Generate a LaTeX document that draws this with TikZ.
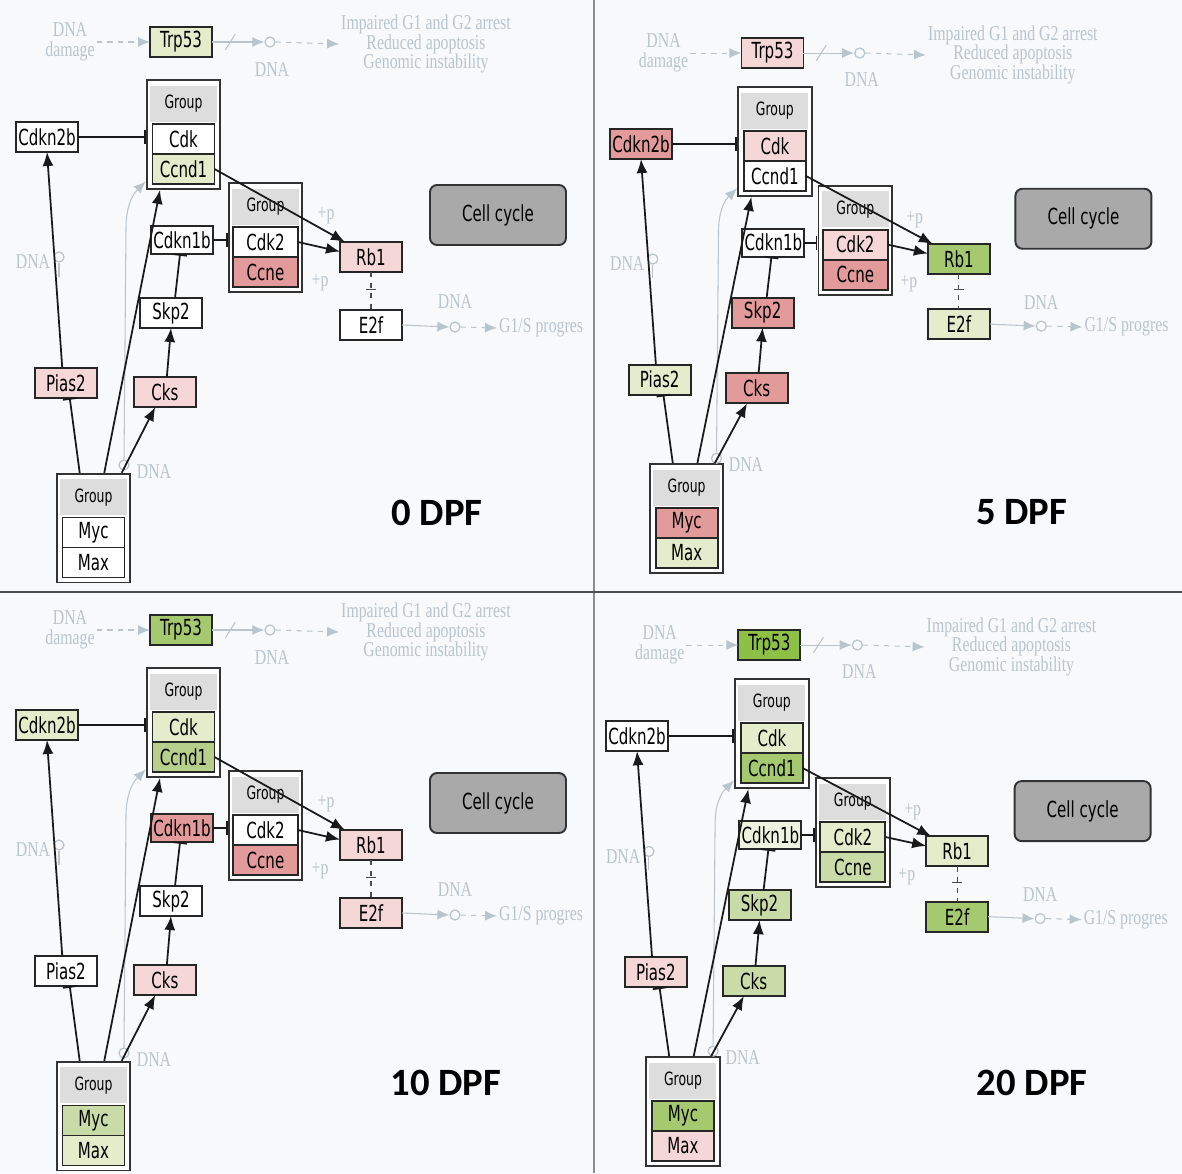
\documentclass[tikz,border=0pt]{standalone}
\usepackage{fontspec}
\setmainfont{DejaVu Sans}[FakeStretch=0.68]
\newfontfamily\keggserif{Liberation Serif}[FakeStretch=0.75]
\newfontfamily\dpffont{Carlito}
\usetikzlibrary{arrows.meta, positioning, calc, fit, backgrounds}
\definecolor{lg}{HTML}{E4ECCB}
\definecolor{pg}{HTML}{EEF3DF}
\definecolor{mg}{HTML}{C9DCA8}
\definecolor{mdg}{HTML}{B6CF8A}
\definecolor{dg}{HTML}{A5C96E}
\definecolor{vg}{HTML}{8DC045}
\definecolor{lp}{HTML}{F6D7D7}
\definecolor{rd}{HTML}{E39A9A}
\definecolor{pagebg}{HTML}{F8F9FB}
\definecolor{fgray}{HTML}{B9C5CD}
\definecolor{hdgray}{HTML}{DDDDDD}
\definecolor{cycgray}{HTML}{A9A9A9}

% fill colours of one panel
\newcommand\genecolors[9]{\def\cTrp{#1}\def\cCdknb{#2}\def\cCdk{#3}\def\cCcnd{#4}%
  \def\cCdkna{#5}\def\cCdkk{#6}\def\cCcne{#7}\def\cRb{#8}\def\cSkp{#9}}
\newcommand\genecolorsb[5]{\def\cEf{#1}\def\cPias{#2}\def\cCks{#3}\def\cMyc{#4}\def\cMax{#5}}

% one cell cycle map: prefix, transform, label position, label
\newcommand\keggpanel[4]{%
\begin{scope}[#2]
% p53 branch
\node[faint, align=center] (#1dmg) at (70,42) {DNA\\damage};
\node[gene, fill=\cTrp] (#1trp) at (181,42) {Trp53};
\node[dot] (#1oa) at (270,42) {};
\node[faint] (#1dnaa) at (272,70) {DNA};
\node[faint, align=center] (#1out) at (426,44) {Impaired G1 and G2 arrest\\Reduced apoptosis\\Genomic instability};
\draw[farr, dashed] (#1dmg.east) -- (#1trp.west);
\draw[farr] (#1trp.east) -- (#1oa.west);
\draw[fln] ($(#1trp.east)!.35!(#1oa.west)+(-5,8)$) -- ++(10,-16);
\draw[farr, dashed] (#1oa.east) -- (#1out.west);
% groups
\node[gene, fill=\cCdk] (#1cdk) at (183.5,139) {Cdk};
\node[gene, fill=\cCcnd, below=0pt of #1cdk] (#1ccnd) {Ccnd1};
\node[grphd, above=0.4mm of #1cdk] (#1gha) {Group};
\node[gene, fill=\cCdkk, minimum width=1.3cm] (#1cdkk) at (265.5,242) {Cdk2};
\node[gene, fill=\cCcne, minimum width=1.3cm, below=0pt of #1cdkk] (#1ccne) {Ccne};
\node[grphd, above=0.4mm of #1cdkk] (#1ghb) {Group};
\node[gene, fill=\cMyc] (#1myc) at (93.5,532.5) {Myc};
\node[gene, fill=\cMax, below=0pt of #1myc] (#1max) {Max};
\node[grphd, above=0.4mm of #1myc] (#1ghc) {Group};
\begin{scope}[on background layer]
\node[grp, fit=(#1gha)(#1cdk)(#1ccnd)] (#1g1) {};
\node[grp, fit=(#1ghb)(#1cdkk)(#1ccne)] (#1g2) {};
\node[grp, fit=(#1ghc)(#1myc)(#1max)] (#1g3) {};
\end{scope}
% single genes
\node[gene, fill=\cCdknb] (#1cdknb) at (47,137) {Cdkn2b};
\node[gene, fill=\cCdkna, minimum height=0.56cm] (#1cdkna) at (182,240) {Cdkn1b};
\node[gene, fill=\cRb] (#1rb) at (371,257) {Rb1};
\node[gene, fill=\cEf] (#1e2f) at (371,325) {E2f};
\node[gene, fill=\cSkp] (#1skp) at (171,313) {Skp2};
\node[gene, fill=\cPias] (#1pias) at (66,383) {Pias2};
\node[gene, fill=\cCks] (#1cks) at (165,392) {Cks};
\node[cyc] (#1cyc) at (498,215) {Cell cycle};
% faint background marks
\node[faint] (#1pa) at (326,216) {+p};
\node[faint] (#1pb) at (320,283) {+p};
\node[dot] (#1ob) at (455,327) {};
\node[faint] (#1dnab) at (455,302) {DNA};
\node[faint, anchor=west] (#1gs) at (497,328) {G1/S progres};
\draw[farr] (#1e2f.east) -- (#1ob.west);
\draw[farr, dashed] (#1ob.east) -- (#1gs.west);
\node[faint] (#1dnac) at (33,262) {DNA};
\node[dot] (#1oc) at (59,257) {};
\draw[fln] (#1oc.south) -- ++(0,14);
\node[dot] (#1od) at (124,465) {};
\node[faint] (#1dnad) at (154,472) {DNA};
\draw[farr] (#1od.north) -- (126,228) to[out=90, in=225] (#1g1.231);
% interactions
\draw[act] (#1pias.104) -- (#1cdknb.south);
\draw[inh] (#1g3.104) -- (#1pias.-76);
\draw[act] (#1g3.79) -- (#1g1.-113);
\draw[act] (#1g3.63) -- (#1cks.-123);
\draw[act] (#1cks.83) -- (#1skp.south);
\draw[inh] (#1skp.75) -- (#1cdkna.-98);
\draw[inh] (#1cdknb.east) -- (#1cdknb.east -| #1g1.west);
\draw[inh] (#1cdkna.east) -- (#1cdkna.east -| #1g2.west);
\draw[act] (#1ccnd.east) -- (#1rb.150);
\draw[act] (#1cdkk.east) -- (#1rb.170);
\draw[bnd] (#1rb.south) -- coordinate[pos=.45] (#1rbm) (#1e2f.north);
\draw[bnd, solid] ([xshift=-1mm]#1rbm) -- ([xshift=1mm]#1rbm);
\node[dpf] (#1lbl) at #3 {#4};
\end{scope}}

\begin{document}
\begin{tikzpicture}[
  x=0.2mm, y=-0.2mm,
  gene/.style={rectangle, draw=black!85, line width=1.1pt, outer sep=0pt, inner sep=0pt,
    minimum width=1.24cm, minimum height=0.6cm, font=\fontsize{12.6}{13}\selectfont},
  grp/.style={rectangle, draw=black!80, line width=1.1pt, fill=white, inner xsep=0.6mm, inner ysep=1mm},
  grphd/.style={rectangle, fill=hdgray, minimum width=1.34cm, minimum height=0.72cm, inner sep=0pt,
    font=\fontsize{10.4}{11}\selectfont},
  cyc/.style={rectangle, rounded corners=4pt, draw=black!80, line width=1.1pt, fill=cycgray,
    minimum width=2.72cm, minimum height=1.2cm, font=\fontsize{12.6}{13}\selectfont},
  faint/.style={text=fgray, inner sep=1pt, font=\keggserif\fontsize{12}{11.3}\selectfont},
  dot/.style={circle, draw=fgray, line width=0.7pt, minimum size=2mm, inner sep=0pt},
  fln/.style={draw=fgray, line width=0.6pt},
  farr/.style={fln, -{Latex[length=2.4mm, width=2mm]}},
  act/.style={-{Latex[length=2.8mm, width=2.2mm]}, line width=1pt, black!90},
  inh/.style={-{Bar[width=2.8mm]}, line width=1pt, black!90},
  bnd/.style={dashed, line width=0.6pt, black!70},
  dpf/.style={font=\dpffont\bfseries\fontsize{22}{26}\selectfont}
]
\begin{scope}[on background layer]
\fill[pagebg] (0,0) rectangle (1182,1173);
\end{scope}
\useasboundingbox (0,0) rectangle (1182,1173);

% 0 DPF
\genecolors{lg}{white}{white}{lg}{white}{white}{rd}{lp}{white}
\genecolorsb{white}{lp}{lp}{white}{white}
\keggpanel{a}{}{(437,513)}{0 DPF}

% 5 DPF
\genecolors{lp}{rd}{lp}{white}{white}{lp}{rd}{dg}{rd}
\genecolorsb{lg}{lg}{rd}{rd}{lg}
\keggpanel{b}{shift={(594.9,12.8)}, xscale=.981, yscale=.958}{(435,521)}{5 DPF}

% 10 DPF
\genecolors{dg}{lg}{lg}{mdg}{rd}{white}{rd}{lp}{white}
\genecolorsb{lp}{white}{lp}{mg}{lg}
\keggpanel{c}{shift={(0,588)}}{(446,495)}{10 DPF}

% 20 DPF
\genecolors{vg}{white}{lg}{dg}{pg}{lg}{mg}{lg}{mg}
\genecolorsb{dg}{lp}{mg}{dg}{lp}
\keggpanel{d}{shift={(590.6,604.7)}, xscale=.988, yscale=.96}{(447,498)}{20 DPF}

% panel borders
\draw[black!45, line width=0.8pt] (594,0) -- (594,1173);
\draw[black!70, line width=1.1pt] (0,592) -- (1182,592);
\end{tikzpicture}
\end{document}
